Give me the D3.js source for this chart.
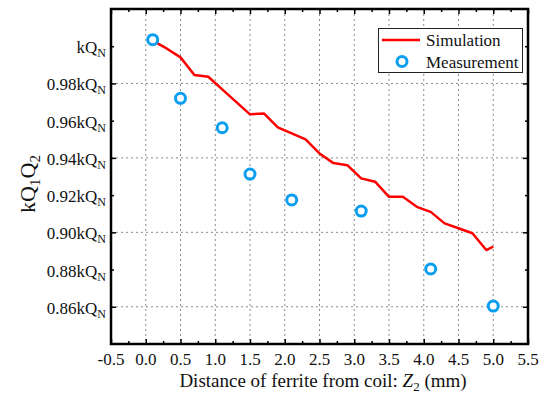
<!DOCTYPE html>
<html>
<head>
<meta charset="utf-8">
<script src="https://cdn.jsdelivr.net/npm/d3@7"></script>
<style>
  body { margin: 0; background: #fff; }
  svg text { fill: #111; font-family: "Liberation Serif", "Times New Roman", serif; }
</style>
</head>
<body>
<div id="chart"></div>
<script>
// Simulation curve (distance in mm, value in kQN)
var simX = [0.1, 0.3, 0.5, 0.7, 0.9, 1.1, 1.3, 1.5, 1.7, 1.9, 2.1, 2.3, 2.5,
            2.7, 2.9, 3.1, 3.3, 3.5, 3.7, 3.9, 4.1, 4.3, 4.5, 4.7, 4.9, 5.0];
var simY = [1.003, 0.9988, 0.994, 0.9845, 0.9836, 0.9768, 0.9701, 0.9634, 0.9639,
            0.9564, 0.9532, 0.950, 0.9424, 0.9372, 0.9361, 0.929, 0.9272, 0.9191,
            0.9191, 0.9137, 0.911, 0.9048, 0.9022, 0.8995, 0.8905, 0.8923];

// Measured points
var measX = [0.1, 0.5, 1.1, 1.5, 2.1, 3.1, 4.1, 5.0];
var measY = [1.0035, 0.972, 0.9562, 0.9313, 0.9174, 0.9114, 0.8803, 0.8604];

var xTicks = [-0.5, 0.0, 0.5, 1.0, 1.5, 2.0, 2.5, 3.0, 3.5, 4.0, 4.5, 5.0, 5.5];
var xMinor = [-0.25, 0.25, 0.75, 1.25, 1.75, 2.25, 2.75, 3.25, 3.75, 4.25, 4.75, 5.25];
var yTicks = [0.86, 0.88, 0.90, 0.92, 0.94, 0.96, 0.98, 1.00];
var yTickLabels = ["0.86kQ", "0.88kQ", "0.90kQ", "0.92kQ", "0.94kQ", "0.96kQ", "0.98kQ", "kQ"];
var yGrid = [0.86, 0.90, 0.94, 0.98];
var yMinor = [0.88, 0.92, 0.96, 1.00];

var W = 551, H = 397;
var m = { left: 111, top: 9, right: 528, bottom: 344 };

var svg = d3.select("#chart").append("svg")
  .attr("width", W)
  .attr("height", H);

var x = d3.scaleLinear().domain([-0.5, 5.5]).range([m.left, m.right]);
var y = d3.scaleLinear().domain([0.84, 1.02]).range([m.bottom, m.top]);

var blue = "#0a9ef0";

// grid lines
var grid = svg.append("g")
  .attr("stroke", "#8a8a8a")
  .attr("stroke-width", 1)
  .attr("stroke-dasharray", "2,3");

grid.selectAll("line.vx")
  .data(xTicks.slice(1, -1))
  .enter().append("line")
  .attr("x1", function(d) { return x(d); })
  .attr("x2", function(d) { return x(d); })
  .attr("y1", m.top)
  .attr("y2", m.bottom);

grid.selectAll("line.hy")
  .data(yGrid)
  .enter().append("line")
  .attr("x1", m.left)
  .attr("x2", m.right)
  .attr("y1", function(d) { return y(d); })
  .attr("y2", function(d) { return y(d); });

// axes with ticks pointing inward, mirrored on top/right
function addAxis(axis, tx, ty) {
  var g = svg.append("g")
    .attr("transform", "translate(" + tx + "," + ty + ")")
    .call(axis);
  g.select(".domain").remove();
  g.selectAll("text").remove();
  g.selectAll("line").attr("stroke", "#000").attr("stroke-width", 1.5);
  return g;
}

addAxis(d3.axisBottom(x).tickValues(xTicks).tickSize(-5), 0, m.bottom);
addAxis(d3.axisBottom(x).tickValues(xMinor).tickSize(-3), 0, m.bottom);
addAxis(d3.axisTop(x).tickValues(xTicks).tickSize(-5), 0, m.top);
addAxis(d3.axisTop(x).tickValues(xMinor).tickSize(-3), 0, m.top);

addAxis(d3.axisLeft(y).tickValues(yGrid).tickSize(-5), m.left, 0);
addAxis(d3.axisLeft(y).tickValues(yMinor).tickSize(-3), m.left, 0);
addAxis(d3.axisRight(y).tickValues(yGrid).tickSize(-5), m.right, 0);
addAxis(d3.axisRight(y).tickValues(yMinor).tickSize(-3), m.right, 0);

// frame
svg.append("rect")
  .attr("x", m.left)
  .attr("y", m.top)
  .attr("width", m.right - m.left)
  .attr("height", m.bottom - m.top)
  .attr("fill", "none")
  .attr("stroke", "#000")
  .attr("stroke-width", 2.5);

// x tick labels
svg.selectAll("text.xl")
  .data(xTicks)
  .enter().append("text")
  .attr("x", function(d) { return x(d); })
  .attr("y", 365)
  .attr("text-anchor", "middle")
  .attr("font-size", 17)
  .text(function(d) { return d.toFixed(1); });

// y tick labels, subscript N
var yl = svg.selectAll("text.yl")
  .data(yTicks)
  .enter().append("text")
  .attr("x", 106)
  .attr("y", function(d) { return y(d) + 7; })
  .attr("text-anchor", "end")
  .attr("font-size", 17);
yl.append("tspan").text(function(d, i) { return yTickLabels[i]; });
yl.append("tspan")
  .attr("font-size", 12)
  .attr("dy", 4)
  .text("N");

// axis titles
svg.append("text")
  .attr("x", 323)
  .attr("y", 387)
  .attr("text-anchor", "middle")
  .attr("font-size", 19)
  .call(function(t) {
    t.append("tspan").text("Distance of ferrite from coil: ");
    t.append("tspan").attr("font-style", "italic").text("Z");
    t.append("tspan").attr("font-size", 13).attr("dy", 4).text("2");
    t.append("tspan").attr("dy", -4).text(" (mm)");
  });

svg.append("text")
  .attr("transform", "translate(35,184) rotate(-90)")
  .attr("text-anchor", "middle")
  .attr("font-size", 22)
  .call(function(t) {
    t.append("tspan").text("kQ");
    t.append("tspan").attr("font-size", 15).attr("dy", 5).text("1");
    t.append("tspan").attr("dy", -5).text("Q");
    t.append("tspan").attr("font-size", 15).attr("dy", 5).text("2");
  });

// simulation line
var line = d3.line()
  .x(function(d) { return x(d[0]); })
  .y(function(d) { return y(d[1]); });

svg.append("path")
  .datum(d3.zip(simX, simY))
  .attr("d", line)
  .attr("fill", "none")
  .attr("stroke", "#ff0000")
  .attr("stroke-width", 2.5)
  .attr("stroke-linejoin", "round");

// measurement markers
svg.selectAll("circle.meas")
  .data(d3.zip(measX, measY))
  .enter().append("circle")
  .attr("cx", function(d) { return x(d[0]); })
  .attr("cy", function(d) { return y(d[1]); })
  .attr("r", 5)
  .attr("fill", "#fff")
  .attr("stroke", blue)
  .attr("stroke-width", 3);

// legend
var lg = svg.append("g");
lg.append("rect")
  .attr("x", 378.5)
  .attr("y", 28.5)
  .attr("width", 144)
  .attr("height", 44)
  .attr("fill", "#fff")
  .attr("stroke", "#222")
  .attr("stroke-width", 1);
lg.append("line")
  .attr("x1", 382)
  .attr("x2", 420)
  .attr("y1", 40)
  .attr("y2", 40)
  .attr("stroke", "#ff0000")
  .attr("stroke-width", 2.5);
lg.append("text")
  .attr("x", 426)
  .attr("y", 46)
  .attr("font-size", 17)
  .text("Simulation");
lg.append("circle")
  .attr("cx", 402)
  .attr("cy", 61.5)
  .attr("r", 5)
  .attr("fill", "#fff")
  .attr("stroke", blue)
  .attr("stroke-width", 3);
lg.append("text")
  .attr("x", 426)
  .attr("y", 67.5)
  .attr("font-size", 17)
  .text("Measurement");
</script>
</body>
</html>
